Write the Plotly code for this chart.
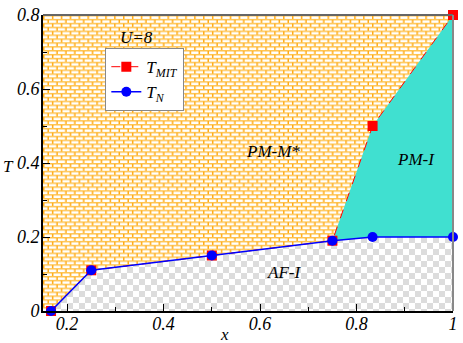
import base64
import plotly.graph_objects as go

# ---- data ----
x_pts = [1/6, 0.25, 0.5, 0.75, 0.8333, 1.0]
T_MIT = [0.0, 0.11, 0.15, 0.19, 0.5, 0.8]
T_N = [0.0, 0.11, 0.15, 0.19, 0.2, 0.2]
x_ticks = [0.2, 0.4, 0.6, 0.8, 1.0]
y_ticks = [0, 0.2, 0.4, 0.6, 0.8]
x_range = [0.15, 1.0]
y_range = [0.0, 0.8]

FONT = "Liberation Serif"
W, H = 463, 343
ML, MR, MT, MB = 43, 5, 7, 32
PW, PH = W - ML - MR, H - MT - MB

# brick texture used as the plot-area background (PM-M* region)
brick_svg = (
    f"<svg xmlns='http://www.w3.org/2000/svg' width='{PW}' height='{PH}'>"
    "<defs><pattern id='b' width='9' height='8' patternUnits='userSpaceOnUse'>"
    "<rect width='9' height='8' fill='#FFFFFF'/>"
    "<rect x='0' y='0' width='9' height='1.5' fill='#FFC24A'/>"
    "<rect x='0' y='4' width='9' height='1.5' fill='#FFC24A'/>"
    "<rect x='0' y='1' width='1.5' height='3' fill='#FFA812'/>"
    "<rect x='4.5' y='5' width='1.5' height='3' fill='#FFA812'/>"
    "</pattern></defs>"
    f"<rect width='{PW}' height='{PH}' fill='url(#b)'/></svg>"
)
brick_uri = "data:image/svg+xml;base64," + base64.b64encode(brick_svg.encode()).decode()

fig = go.Figure()

# PM-I region (turquoise) between T_N and T_MIT for x >= 0.75
i0 = 3
px = x_pts[i0:] + x_pts[i0:][::-1]
py = T_N[i0:] + T_MIT[i0:][::-1]
fig.add_trace(go.Scatter(
    x=px, y=py, mode="none", fill="toself", fillcolor="#40E0D0",
    showlegend=False, hoverinfo="skip"))

# AF-I region (checkerboard) below T_N
ax_ = x_pts + [x_range[1]]
ay_ = T_N + [y_range[0]]
fig.add_trace(go.Scatter(
    x=ax_, y=ay_, mode="none", fill="toself", showlegend=False, hoverinfo="skip",
    fillcolor="#DCDCDC",
    fillpattern=dict(path="M0,0H6V6H0ZM6,6H12V12H6Z", size=12,
                     fgcolor="#DCDCDC", bgcolor="#FFFFFF", fgopacity=1,
                     fillmode="overlay", solidity=1),
))

# Lines
fig.add_trace(go.Scatter(
    x=x_pts, y=T_MIT, mode="lines+markers", name="<i>T<sub>MIT</sub></i>",
    line=dict(color="#FF0000", width=1, dash="dash"),
    marker=dict(symbol="square", size=10, color="#FF0000"), cliponaxis=False))
fig.add_trace(go.Scatter(
    x=x_pts, y=T_N, mode="lines+markers", name="<i>T<sub>N</sub></i>",
    line=dict(color="#0000FF", width=1.5),
    marker=dict(symbol="circle", size=10, color="#0000FF"), cliponaxis=False))

tickfont = dict(family=FONT, size=18, color="#000000", style="italic")
fig.update_xaxes(range=x_range, tickvals=x_ticks, ticks="inside", ticklen=7,
                 tickwidth=1, tickcolor="#000", showgrid=False, zeroline=False,
                 showline=True, linecolor="#000", linewidth=2, tickfont=tickfont,
                 ticklabelstandoff=-5, ticklabeloverflow="allow",
                 minor=dict(dtick=0.1, tick0=0, ticks="inside", ticklen=4,
                            tickcolor="#000", showgrid=False))
fig.update_yaxes(range=y_range, tickvals=y_ticks, ticks="inside", ticklen=7,
                 tickwidth=1, tickcolor="#000", showgrid=False, zeroline=False,
                 showline=True, linecolor="#000", linewidth=2, tickfont=tickfont,
                 ticklabelstandoff=-2, ticklabeloverflow="allow",
                 minor=dict(dtick=0.1, tick0=0, ticks="inside", ticklen=4,
                            tickcolor="#000", showgrid=False))

afont = dict(family=FONT, size=17, color="#000", style="italic")
anns = [
    dict(x=0.627, y=0.43, text="PM-M*", xref="x", yref="y"),
    dict(x=0.924, y=0.41, text="PM-I", xref="x", yref="y"),
    dict(x=0.65, y=0.105, text="AF-I", xref="x", yref="y"),
    dict(x=0.343, y=0.74, text="U=8", xref="x", yref="y"),
    dict(x=(8 - ML) / PW, y=(311 - 163) / PH, text="T", xref="paper", yref="paper",
         xanchor="center", yanchor="middle"),
    dict(x=(227 - ML) / PW, y=(311 - 323) / PH, text="x", xref="paper", yref="paper",
         xanchor="center", yanchor="top"),
]
for a in anns:
    fig.add_annotation(showarrow=False, font=afont, **a)

# frame top/right
fig.add_shape(type="line", xref="paper", yref="paper", x0=0, x1=1, y0=1, y1=1,
              line=dict(color="#666", width=2))
fig.add_shape(type="line", xref="paper", yref="paper", x0=1, x1=1, y0=0, y1=1,
              line=dict(color="#888", width=2))

fig.add_layout_image(dict(source=brick_uri, xref="paper", yref="paper", x=0, y=1,
                          sizex=1, sizey=1, xanchor="left", yanchor="top",
                          sizing="stretch", layer="below"))

fig.update_layout(
    width=W, height=H,
    margin=dict(l=ML, r=MR, t=MT, b=MB),
    paper_bgcolor="white", plot_bgcolor="rgba(0,0,0,0)",
    legend=dict(x=0.152, y=0.888, xanchor="left", yanchor="top",
                bgcolor="white", bordercolor="#888", borderwidth=1,
                font=dict(family=FONT, size=17, color="#000"),
                itemwidth=30, tracegroupgap=0),
)

fig.write_html("out.html", config={"displayModeBar": False},
               post_script="document.body.style.margin='0';")
